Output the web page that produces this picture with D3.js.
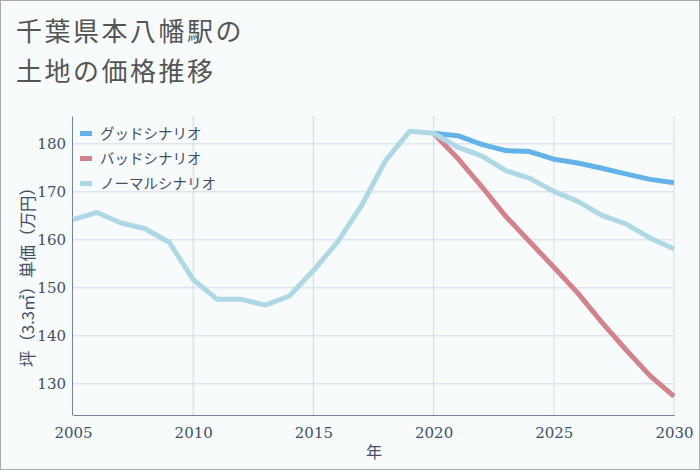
<!DOCTYPE html>
<html><head><meta charset="utf-8">
<script src="https://cdn.jsdelivr.net/npm/d3@7"></script>
<style>
html,body{margin:0;padding:0;background:#fff;}
svg{display:block;}
</style></head>
<body>
<svg id="c" width="700" height="470"></svg>
<script>
const years = d3.range(2005, 2031);
const normalYears = d3.range(2005, 2031);
const normalValues = [164.2,165.7,163.5,162.3,159.5,151.7,147.6,147.6,146.4,148.3,153.6,159.5,167.1,176.5,182.6,182.2,179.3,177.5,174.4,172.8,170.1,168.0,165.1,163.3,160.4,158.1];
const scenarioYears = d3.range(2020, 2031);
const goodValues = [182.2,181.7,179.9,178.6,178.4,176.8,176.0,174.9,173.75,172.6,171.9];
const badValues = [182.2,177.0,171.1,164.9,159.6,154.3,148.9,142.8,137.1,131.7,127.4];
const xTicks = [2005,2010,2015,2020,2025,2030];
const yTicks = [130,140,150,160,170,180];
const seriesNames = ["グッドシナリオ","バッドシナリオ","ノーマルシナリオ"];
const seriesColors = ["#62b3e9","#d4828a","#add8e6"];
const titleLines = ["千葉県本八幡駅の","土地の価格推移"];

const svg = d3.select("#c");
svg.append("rect").attr("x",0.5).attr("y",0.5).attr("width",699).attr("height",469)
  .attr("fill","#f8fbfb").attr("stroke","#aaaaaa").attr("stroke-width",1);

const font = "'Noto Sans CJK JP','Noto Sans',sans-serif";
svg.selectAll("text.title").data(titleLines).enter().append("text")
  .attr("x",16).attr("y",(d,i)=>41+i*40)
  .attr("font-family",font).attr("font-size",26).attr("letter-spacing",2.5).attr("fill","#555555")
  .text(d=>d);

const x = d3.scaleLinear().domain([2005,2030]).range([73,674]);
const y = d3.scaleLinear().domain([123.5,185.8]).range([415,116]);

const g = svg.append("g");
g.selectAll("line.hg").data(yTicks).enter().append("line")
  .attr("x1",73).attr("x2",674).attr("y1",d=>y(d)).attr("y2",d=>y(d))
  .attr("stroke","#d0dbe8").attr("stroke-width",1);
g.selectAll("line.vg").data(xTicks.slice(1)).enter().append("line")
  .attr("x1",d=>x(d)).attr("x2",d=>x(d)).attr("y1",116).attr("y2",415)
  .attr("stroke",(d)=> d===2025 ? "#cfe3ee" : "#d0dbe8").attr("stroke-width",1);

const xAxis = d3.axisBottom(x).tickValues(xTicks).tickFormat(d3.format("d")).tickSize(0).tickPadding(12);
const xa = svg.append("g").attr("transform","translate(0,415)").call(xAxis);
xa.select(".domain").attr("stroke","#6f819b");
xa.selectAll("text").attr("font-family","'DejaVu Serif','Liberation Serif',serif").attr("font-size",15).attr("fill","#3f4f66");

const yAxis = d3.axisLeft(y).tickValues(yTicks).tickSize(0).tickPadding(6);
const ya = svg.append("g").attr("transform","translate(72,0)").call(yAxis);
ya.select(".domain").attr("stroke","#6f819b");
ya.selectAll("text").attr("font-family","'DejaVu Serif','Liberation Serif',serif").attr("font-size",15).attr("fill","#3f4f66");

svg.append("text").attr("x",374).attr("y",458).attr("text-anchor","middle")
  .attr("font-family",font).attr("font-size",16).attr("fill","#3f4f66").text("年");
svg.append("text").attr("transform","translate(34,273) rotate(-90)").attr("text-anchor","middle")
  .attr("font-family",font).attr("font-size",16.5).attr("fill","#3f4f66").text("坪（3.3㎡）単価（万円）");

const line = d3.line().x(d=>x(d[0])).y(d=>y(d[1]));
const series = [
  {name:seriesNames[0], color:seriesColors[0], pts:d3.zip(scenarioYears,goodValues)},
  {name:seriesNames[1], color:seriesColors[1], pts:d3.zip(scenarioYears,badValues)},
  {name:seriesNames[2], color:seriesColors[2], pts:d3.zip(normalYears,normalValues)}
];
svg.selectAll("path.s").data(series).enter().append("path")
  .attr("d",d=>line(d.pts)).attr("fill","none").attr("stroke",d=>d.color)
  .attr("stroke-width",5).attr("stroke-linejoin","round");

const lg = svg.append("g");
series.forEach((s,i)=>{
  lg.append("rect").attr("x",80).attr("y",131+i*25).attr("width",12).attr("height",5).attr("fill",s.color);
  lg.append("text").attr("x",100).attr("y",139+i*25).attr("font-family",font).attr("font-size",14.5)
    .attr("fill","#3f4f66").text(s.name);
});
</script>
</body></html>
